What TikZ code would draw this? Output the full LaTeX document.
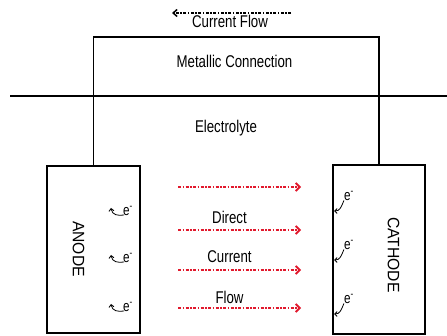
\documentclass[tikz,border=0pt]{standalone}
\usepackage{fontspec}
\setmainfont{Liberation Sans}[FakeStretch=0.78]
\newfontfamily\widefont{Liberation Sans}[FakeStretch=0.95]
\usetikzlibrary{arrows.meta}
\definecolor{flowred}{RGB}{225,25,45}
\begin{document}
\begin{tikzpicture}[x=1pt,y=-1pt,
  lbl/.style={font=\fontsize{17}{19}\selectfont, inner sep=0pt},
  sidelbl/.style={font=\widefont\fontsize{16.5}{18}\selectfont, inner sep=0pt, rotate=-90},
  elbl/.style={font=\fontsize{15}{16}\selectfont, inner sep=0pt},
  electrode/.style={draw, line width=1.3pt, minimum width=93pt, minimum height=167pt, inner sep=0pt},
  wire/.style={line width=1.3pt},
  redflow/.style={draw=flowred, line width=1.5pt, dash pattern=on 3pt off 1.5pt on 1.5pt off 1.5pt, -{Straight Barb[length=4pt,width=8pt,line width=1.8pt]}},
  blackflow/.style={line width=1.1pt, dash pattern=on 3pt off 1.5pt on 1.5pt off 1.5pt, -{Straight Barb[length=4pt,width=7pt,line width=1.5pt]}},
  eflow/.style={line width=0.8pt, -{Straight Barb[length=2.5pt,width=5pt,line width=0.9pt]}}
]
\useasboundingbox (0,0) rectangle (447,336);
% electrodes
\node[electrode] (anode) at (93.5,249.5) {};
\node[electrode, minimum width=92pt, minimum height=169pt] (cathode) at (379,249.5) {};
\node[sidelbl] (anodetxt) at (78.5,249) {ANODE};
\node[sidelbl] (cathodetxt) at (393.5,255) {CATHODE};
% metallic connection
\coordinate (mtop) at (236,37);
\draw[wire] (anode.north) |- (mtop) -| (cathode.north);
% electrolyte surface
\coordinate (sl) at (10,96);
\coordinate (sr) at (447,96);
\draw[wire] (sl) -- (sr);
% labels
\node[lbl] (cf) at (230,21) {Current Flow};
\node[lbl] (mc) at (234.5,61) {Metallic Connection};
\node[lbl] (el) at (226,128) {Electrolyte};
% current flow arrow
\coordinate (cfR) at (291,13);
\coordinate (cfL) at (172,13);
\draw[blackflow] (cfR) -- (cfL);
% red arrows
\foreach \y [count=\i] in {187,230,270,308}{
  \coordinate (rl\i) at (178,\y);
  \coordinate (rr\i) at (301,\y);
  \draw[redflow] (rl\i) -- (rr\i);
}
\node[lbl] (direct) at (229.5,217) {Direct};
\node[lbl] (current) at (229.5,257) {Current};
\node[lbl] (flow) at (229.5,297) {Flow};
% anode electrons
\foreach \y [count=\i] in {211,258,307}{
  \node[elbl, anchor=west] (ae\i) at (123,\y) {e\textsuperscript{-}};
  \coordinate (aa\i) at (111,\y-3);
  \draw[eflow] (ae\i.west) ++(1,4) .. controls +(-6,1) and +(1,7) .. (aa\i);
}
% cathode electrons
\foreach \y [count=\i] in {196,245,299}{
  \node[elbl] (ce\i) at (349,\y) {e\textsuperscript{-}};
  \coordinate (ca\i) at (334,\y+15);
  \draw[eflow] (ce\i.south west) .. controls +(-3,7) and +(6,0) .. (ca\i);
}
\end{tikzpicture}
\end{document}
